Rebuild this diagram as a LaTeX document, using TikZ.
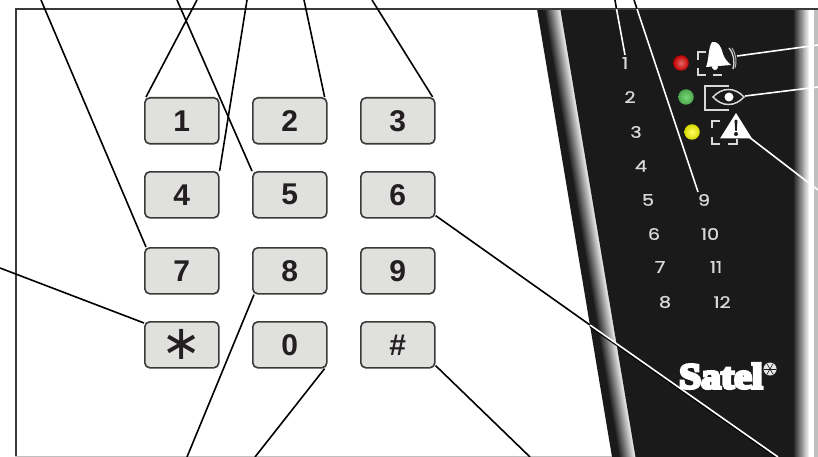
\documentclass[tikz,border=0pt]{standalone}
\usetikzlibrary{calc}
\usepackage{fontspec}
\setmainfont{Liberation Sans}
\newfontfamily\panelfont[FakeBold=0.8]{Poppins}
\newfontfamily\satelfont[FakeBold=8]{Liberation Serif Bold}
\newfontfamily\starfont{DejaVu Sans}
\definecolor{paneldark}{HTML}{1A1A1A}
\definecolor{keyfill}{HTML}{E0E0DF}
\definecolor{keyedge}{HTML}{3C3A38}
\definecolor{keytext}{HTML}{231F20}
\definecolor{paneltext}{HTML}{D8D8D8}
\tikzset{
  keybox/.style={draw=keyedge,line width=1.6pt,fill=keyfill,rounded corners=5pt,minimum width=74pt,minimum height=46pt,inner sep=0pt,text=keytext,font=\bfseries\fontsize{30}{30}\selectfont,anchor=north west},
  leader/.style={draw=black,line width=1.6pt},
  wleader/.style={draw=white,line width=1.6pt},
  ledno/.style={text=paneltext,font=\panelfont\fontsize{16}{16}\selectfont,inner sep=0pt,xscale=1.2},
  icon/.style={draw=paneltext,line width=1.3pt},
  led/.style={circle,minimum size=15.5pt,inner sep=0pt,shading=radial},
}
\begin{document}
\begin{tikzpicture}[x=1pt,y=-1pt]
\useasboundingbox (0,0) rectangle (818,457);
\fill[white] (0,0) rectangle (818,457);
% panel
\fill[paneldark] (537,9) -- (805,9) -- (805,457) -- (612,457) -- cycle;
\foreach \i in {0,...,29}{
  \pgfmathsetmacro{\a}{\i/30}
  \pgfmathsetmacro{\c}{88*(\i/29)}
  \fill[white!\c!paneldark] ({544+16*\a},10) -- (562,10) -- (637,457) -- ({619+16*\a},457) -- cycle;
  \pgfmathsetmacro{\d}{100*(\i/29)}
  \fill[white!\d!paneldark] ({793+17*\a},10) rectangle (811,457);
}
\fill[paneldark] (560.5,10) -- (570,10) -- (645,457) -- (635.5,457) -- cycle;
\fill[white] (810,10) rectangle (814,457);
\fill[white!75!black] (814,10) rectangle (818,457);
% frame
\draw[draw=keyedge,line width=2pt] (15.5,457) -- (15.5,9) -- (818,9);
\draw[draw=black!25,line width=1pt] (15,456.5) -- (612,456.5);
% keys
\node[keybox] (k1) at (144,97) {1};
\node[keybox] (k2) at (252,97) {2};
\node[keybox] (k3) at (360,97) {3};
\node[keybox] (k4) at (144,171) {4};
\node[keybox] (k5) at (252,171) {5};
\node[keybox] (k6) at (360,171) {6};
\node[keybox] (k7) at (144,247) {7};
\node[keybox] (k8) at (252,247) {8};
\node[keybox] (k9) at (360,247) {9};
\node[keybox] (kstar) at (144,321) {\mdseries\starfont\fontsize{48}{48}\selectfont ∗};
\node[keybox] (k0) at (252,321) {0};
\node[keybox] (khash) at (360,321) {\#};
% free ends
\coordinate (e7) at (41,0);
\coordinate (e1) at (197,0);
\coordinate (e5) at (177,0);
\coordinate (e4) at (247,0);
\coordinate (e2) at (304,0);
\coordinate (e3) at (372,0);
\coordinate (estar) at (0,268);
\coordinate (e8) at (187,457);
\coordinate (e0) at (255,457);
\coordinate (ehash) at (530,457);
\coordinate (e6) at (778,457);
\coordinate (m6) at (590,325);
\coordinate (tl1) at (615,0);
\coordinate (ml1) at (616.5,9);
\coordinate (tl9) at (634,0);
\coordinate (ml9) at (637,9);
\coordinate (ebell) at (818,45);
\coordinate (eeye) at (818,87);
\coordinate (ewarn) at (818,190);
% leaders on white
\draw[leader] (e7) -- ([xshift=2pt]k7.north west);
\draw[leader] (e1) -- ([xshift=2pt]k1.north west);
\draw[leader] (e5) -- (k5.north west);
\draw[leader] (e4) -- (k4.north east);
\draw[leader] (e2) -- ([xshift=-3pt]k2.north east);
\draw[leader] (e3) -- ([xshift=-3pt]k3.north east);
\draw[leader] (estar) -- ([yshift=-2pt]kstar.north west);
\draw[leader] (e8) -- ([xshift=2pt]k8.south west);
\draw[leader] (e0) -- ([xshift=-3pt]k0.south east);
\draw[leader] (ehash) -- ([yshift=3pt]khash.south east);
\draw[leader] ([yshift=3pt]k6.south east) -- (m6);
\draw[leader,line width=2.4pt] ([yshift=-1pt]m6) -- ([yshift=-1pt]e6);
\draw[wleader] (m6) -- (e6);
\draw[leader] (tl1) -- (ml1);
\draw[leader] (tl9) -- (ml9);
% LEDs
\node[led,inner color=red!55!white!90!black,outer color=red!75!black] (lr) at (681,63) {};
\node[led,inner color=green!45!white!85!black,outer color=green!50!black!70!white] (lg) at (686,97) {};
\node[led,inner color=yellow!60!white,outer color=yellow!85!black] (ly) at (692,132) {};
% numbers
\node[ledno] (n1) at (625,63) {1};
\node[ledno] (n2) at (630,97) {2};
\node[ledno] (n3) at (636,132) {3};
\node[ledno] (n4) at (641,166) {4};
\node[ledno] (n5) at (648,200) {5};
\node[ledno] (n6) at (654,234) {6};
\node[ledno] (n7) at (660,267) {7};
\node[ledno] (n8) at (665,302) {8};
\node[ledno] (n9) at (704,200) {9};
\node[ledno] (n10) at (710,234) {10};
\node[ledno] (n11) at (716,267) {11};
\node[ledno] (n12) at (722,302) {12};
\draw[wleader] (ml1) -- ([yshift=2pt]n1.north);
\draw[wleader] (ml9) -- ([xshift=-6pt,yshift=2pt]n9.north);
% bell icon
\draw[icon] (698,60) -- (698,52) -- (706,52);
\draw[icon] (698,68) -- (698,75) -- (706,75);
\draw[icon] (713,75) -- (722,75);
\fill[white] (712,42) .. controls (718,41) and (721,46) .. (723,54) .. controls (725,60) and (729,63) .. (731,65) -- (706,67) .. controls (709,60) and (708,48) .. (712,42) -- cycle;
\fill[white] (715,67) circle (3pt);
\draw[white!85!black,line width=1.3pt] (729,48) .. controls (734,54) and (735,62) .. (733,69);
\draw[white!70!black,line width=1pt] (732,48) .. controls (736,54) and (737,62) .. (735,68);
\coordinate (ibell) at (737,56);
% eye icon
\draw[icon,line width=1.5pt] (729,86) -- (705,86) -- (705,110) -- (729,110);
\coordinate (ieye) at (745,96);
\path[fill=paneldark,draw=paneltext,line width=1.5pt] (713,97) .. controls (722,87) and (735,87) .. (744,97) .. controls (735,107) and (722,107) .. (713,97) -- cycle;
\fill[white] (729,97) circle (4.5pt);
% warning icon
\draw[icon] (712,128) -- (712,121) -- (720,121);
\draw[icon] (712,137) -- (712,144) -- (720,144);
\draw[icon] (728,144) -- (737,144) -- (737,139);
\fill[white] (736,113) -- (720,138.5) -- (752,138.5) -- cycle;
\fill[paneldark] (734.5,120) -- (737.5,120) -- (736.7,131) -- (735.3,131) -- cycle;
\fill[paneldark] (736,134) circle (2pt);
\coordinate (iwarn) at (749,137);
\draw[wleader] (ibell) -- (ebell);
\draw[wleader] (ieye) -- (eeye);
\draw[wleader] (iwarn) -- (ewarn);
% logo
\node[text=white,inner sep=0pt,anchor=center,xscale=1.1] (logo) at (721,376) {\satelfont\fontsize{36}{36}\selectfont Satel};
\fill[white!90!black] (770,369) circle (6.5pt);
\foreach \r in {0,60,120}{\draw[paneldark,line width=0.6pt] ($(770,369)+(\r:6)$) -- ($(770,369)+(\r+180:6)$);}
\end{tikzpicture}
\end{document}
